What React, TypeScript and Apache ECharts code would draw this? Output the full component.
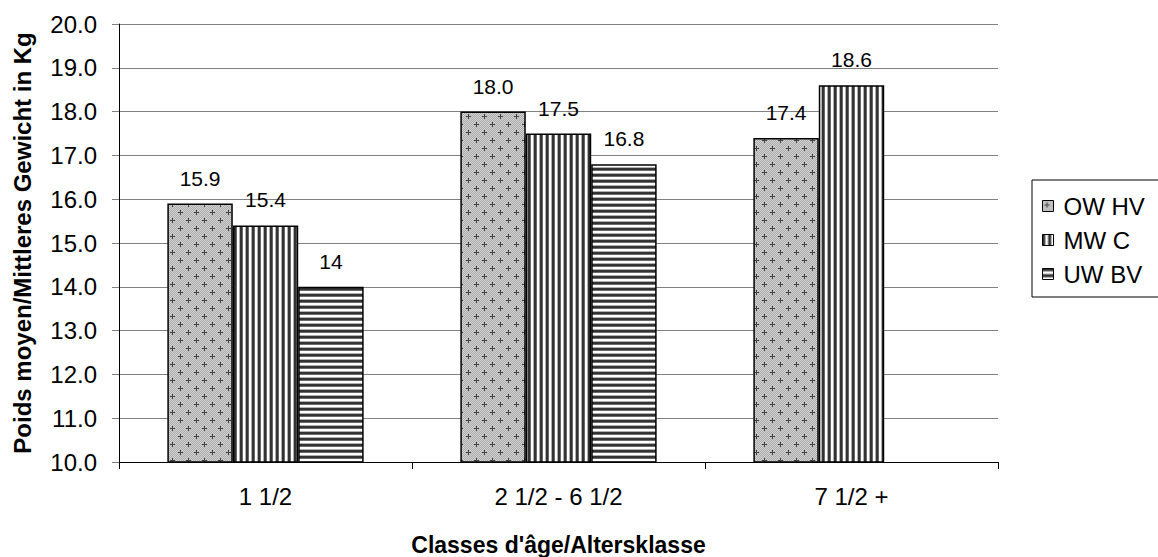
import React, { useEffect, useRef } from "react";
import * as echarts from "echarts";

const categories = ["1 1/2", "2 1/2 - 6 1/2", "7 1/2 +"];
const seriesNames = ["OW HV", "MW C", "UW BV"];
const valuesOW = [15.9, 18.0, 17.4];
const valuesMW = [15.4, 17.5, 18.6];
const valuesUW: (number | null)[] = [14, 16.8, null];
const labelsOW = ["15.9", "18.0", "17.4"];
const labelsMW = ["15.4", "17.5", "18.6"];
const labelsUW = ["14", "16.8", ""];
const yTicks = { min: 10, max: 20, interval: 1 };
const yTitle = "Poids moyen/Mittleres Gewicht in Kg";
const xTitle = "Classes d'âge/Altersklasse";

const FONT = "'Liberation Sans', Arial, sans-serif";

function makeDots(): HTMLCanvasElement {
  const c = document.createElement("canvas");
  c.width = 16;
  c.height = 16;
  const ctx = c.getContext("2d")!;
  ctx.fillStyle = "#ababab";
  ctx.fillRect(0, 0, 16, 16);
  ctx.fillStyle = "#d2d2d2";
  for (let y = 0; y < 16; y++) {
    for (let x = 0; x < 16; x++) {
      if ((x + y) % 2 === 0) ctx.fillRect(x, y, 1, 1);
    }
  }
  ctx.fillStyle = "#404040";
  const plus = (px: number, py: number) => {
    ctx.fillRect(px - 2, py, 5, 1);
    ctx.fillRect(px, py - 2, 1, 5);
  };
  plus(4, 4);
  plus(12, 12);
  return c;
}

const stripeCols = ["#333333", "#333333", "#6a6a6a", "#ffffff", "#ffffff", "#b0b0b0"];

function makeStripes(vertical: boolean): HTMLCanvasElement {
  const c = document.createElement("canvas");
  const n = stripeCols.length;
  c.width = vertical ? n : 4;
  c.height = vertical ? 4 : n;
  const ctx = c.getContext("2d")!;
  stripeCols.forEach((col, i) => {
    ctx.fillStyle = col;
    if (vertical) ctx.fillRect(i, 0, 1, 4);
    else ctx.fillRect(0, i, 4, 1);
  });
  return c;
}

export default function App() {
  const ref = useRef<HTMLDivElement>(null);
  useEffect(() => {
    document.body.style.margin = "0";
    const chart = echarts.init(ref.current!, null, { renderer: "svg" });
    const dots = makeDots();
    const vs = makeStripes(true);
    const hs = makeStripes(false);
    const pat = (img: HTMLCanvasElement) => ({
      image: img,
      repeat: "repeat",
      imageWidth: img.width,
      imageHeight: img.height,
    });
    const mk = (name: string, data: (number | null)[], labels: string[], img: HTMLCanvasElement) => ({
      name,
      type: "bar",
      data,
      barGap: "0%",
      barCategoryGap: "33%",
      itemStyle: { color: pat(img) as any, borderColor: "#000", borderWidth: 1.5 },
      label: {
        show: true,
        position: "top",
        distance: 15,
        fontFamily: FONT,
        fontSize: 21,
        color: "#000",
        formatter: (p: any) => labels[p.dataIndex],
      },
    });
    chart.setOption({
      animation: false,
      backgroundColor: "#fff",
      grid: { left: 119, right: 160, top: 24, bottom: 95, outerBoundsMode: "none", containLabel: false },
      legend: {
        orient: "vertical",
        left: 1032,
        top: 180,
        data: seriesNames,
        icon: "rect",
        itemWidth: 11,
        itemHeight: 11,
        itemGap: 10,
        borderColor: "#000",
        borderWidth: 1,
        borderRadius: 0,
        padding: [14, 40, 11, 10],
        textStyle: { fontFamily: FONT, fontSize: 24, color: "#000", padding: [0, 0, 0, 5] },
        itemStyle: { borderColor: "#000", borderWidth: 1 },
      },
      xAxis: {
        type: "category",
        data: categories,
        name: xTitle,
        nameLocation: "middle",
        nameGap: 71,
        nameTextStyle: { fontFamily: FONT, fontSize: 23, fontWeight: "bold", color: "#000" },
        axisLine: { lineStyle: { color: "#000", width: 1 } },
        axisTick: { show: true, length: 7, lineStyle: { color: "#000" } },
        axisLabel: { fontFamily: FONT, fontSize: 24, color: "#000", margin: 22 },
      },
      yAxis: {
        type: "value",
        min: yTicks.min,
        max: yTicks.max,
        interval: yTicks.interval,
        name: yTitle,
        nameLocation: "middle",
        nameGap: 85,
        nameTextStyle: { fontFamily: FONT, fontSize: 24, fontWeight: "bold", color: "#000" },
        axisLine: { show: true, lineStyle: { color: "#000", width: 1 } },
        axisTick: { show: true, length: 7, lineStyle: { color: "#808080" } },
        axisLabel: {
          fontFamily: FONT,
          fontSize: 24,
          color: "#000",
          margin: 22,
          formatter: (v: number) => v.toFixed(1),
        },
        splitLine: { lineStyle: { color: "#808080", width: 1 } },
      },
      series: [
        mk(seriesNames[0], valuesOW, labelsOW, dots),
        mk(seriesNames[1], valuesMW, labelsMW, vs),
        mk(seriesNames[2], valuesUW, labelsUW, hs),
      ],
    });
    return () => chart.dispose();
  }, []);
  return (
    <div
      ref={ref}
      style={{ position: "absolute", left: 0, top: 0, width: 1158, height: 557 }}
    />
  );
}
